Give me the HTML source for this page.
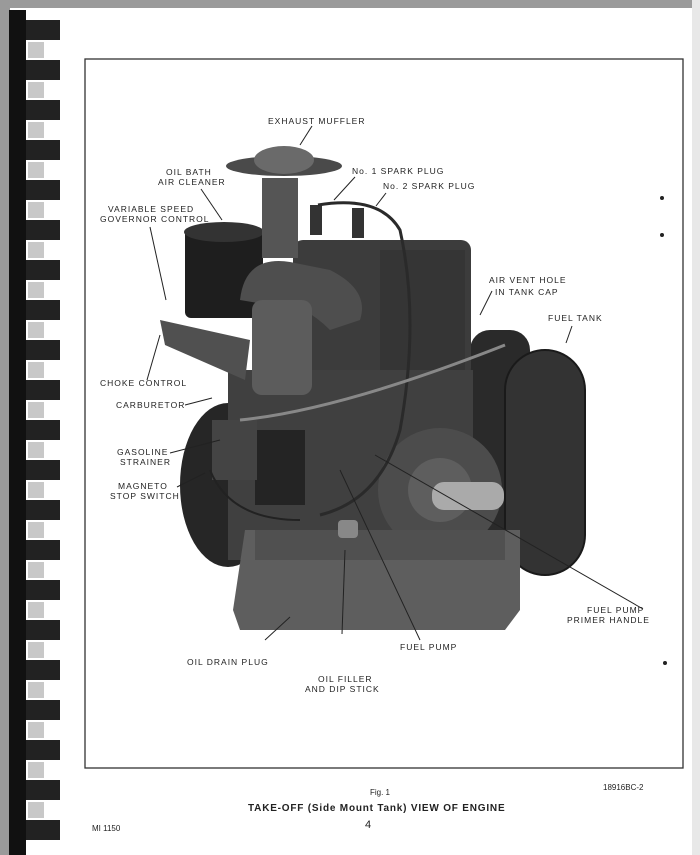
<!DOCTYPE html>
<html><head><style>
html,body{margin:0;padding:0;background:#fff}
svg{display:block}
text{font-family:"Liberation Sans",sans-serif;fill:#222}
</style></head><body>
<svg width="700" height="855" viewBox="0 0 700 855" xmlns="http://www.w3.org/2000/svg">
<rect width="700" height="855" fill="#fff"/>
<rect x="0" y="0" width="700" height="8" fill="#9a9a9a"/>
<rect x="0" y="0" width="10" height="855" fill="#9a9a9a"/>
<rect x="692" y="0" width="8" height="855" fill="#e8e8e8"/>
<!-- binding -->
<rect x="9" y="10" width="17" height="845" fill="#111"/>
<g>
<rect x="26" y="20" width="34" height="20" fill="#222"/><rect x="28" y="42" width="16" height="16" fill="#c8c8c8"/>
<rect x="26" y="60" width="34" height="20" fill="#222"/><rect x="28" y="82" width="16" height="16" fill="#c8c8c8"/>
<rect x="26" y="100" width="34" height="20" fill="#222"/><rect x="28" y="122" width="16" height="16" fill="#c8c8c8"/>
<rect x="26" y="140" width="34" height="20" fill="#222"/><rect x="28" y="162" width="16" height="16" fill="#c8c8c8"/>
<rect x="26" y="180" width="34" height="20" fill="#222"/><rect x="28" y="202" width="16" height="16" fill="#c8c8c8"/>
<rect x="26" y="220" width="34" height="20" fill="#222"/><rect x="28" y="242" width="16" height="16" fill="#c8c8c8"/>
<rect x="26" y="260" width="34" height="20" fill="#222"/><rect x="28" y="282" width="16" height="16" fill="#c8c8c8"/>
<rect x="26" y="300" width="34" height="20" fill="#222"/><rect x="28" y="322" width="16" height="16" fill="#c8c8c8"/>
<rect x="26" y="340" width="34" height="20" fill="#222"/><rect x="28" y="362" width="16" height="16" fill="#c8c8c8"/>
<rect x="26" y="380" width="34" height="20" fill="#222"/><rect x="28" y="402" width="16" height="16" fill="#c8c8c8"/>
<rect x="26" y="420" width="34" height="20" fill="#222"/><rect x="28" y="442" width="16" height="16" fill="#c8c8c8"/>
<rect x="26" y="460" width="34" height="20" fill="#222"/><rect x="28" y="482" width="16" height="16" fill="#c8c8c8"/>
<rect x="26" y="500" width="34" height="20" fill="#222"/><rect x="28" y="522" width="16" height="16" fill="#c8c8c8"/>
<rect x="26" y="540" width="34" height="20" fill="#222"/><rect x="28" y="562" width="16" height="16" fill="#c8c8c8"/>
<rect x="26" y="580" width="34" height="20" fill="#222"/><rect x="28" y="602" width="16" height="16" fill="#c8c8c8"/>
<rect x="26" y="620" width="34" height="20" fill="#222"/><rect x="28" y="642" width="16" height="16" fill="#c8c8c8"/>
<rect x="26" y="660" width="34" height="20" fill="#222"/><rect x="28" y="682" width="16" height="16" fill="#c8c8c8"/>
<rect x="26" y="700" width="34" height="20" fill="#222"/><rect x="28" y="722" width="16" height="16" fill="#c8c8c8"/>
<rect x="26" y="740" width="34" height="20" fill="#222"/><rect x="28" y="762" width="16" height="16" fill="#c8c8c8"/>
<rect x="26" y="780" width="34" height="20" fill="#222"/><rect x="28" y="802" width="16" height="16" fill="#c8c8c8"/>
<rect x="26" y="820" width="34" height="20" fill="#222"/>
</g>
<!-- frame -->
<rect x="85" y="59" width="598" height="709" fill="none" stroke="#333" stroke-width="1.3"/>
<!-- engine -->
<g>
<ellipse cx="228" cy="485" rx="48" ry="82" fill="#262626"/>
<rect x="185" y="228" width="78" height="90" rx="6" fill="#1e1e1e"/>
<ellipse cx="224" cy="232" rx="40" ry="10" fill="#333"/>
<rect x="470" y="330" width="60" height="240" rx="20" fill="#2a2a2a"/>
<rect x="293" y="240" width="178" height="138" rx="10" fill="#3c3c3c"/>
<rect x="380" y="250" width="85" height="120" fill="#353535"/>
<rect x="228" y="370" width="245" height="190" fill="#404040"/>
<circle cx="440" cy="490" r="62" fill="#4c4c4c"/>
<circle cx="440" cy="490" r="32" fill="#5e5e5e"/>
<rect x="505" y="350" width="80" height="225" rx="40" fill="#333" stroke="#1a1a1a" stroke-width="2"/>
<rect x="432" y="482" width="72" height="28" rx="12" fill="#aaa"/>
<path d="M245 530 L520 530 L520 610 L505 630 L240 630 L233 610 Z" fill="#5e5e5e"/>
<rect x="255" y="530" width="250" height="30" fill="#505050"/>
<rect x="262" y="178" width="36" height="80" fill="#555"/>
<path d="M240 300 Q245 255 290 262 L330 270 Q370 290 360 320 L330 330 Q300 300 270 305 Z" fill="#4e4e4e"/>
<ellipse cx="284" cy="166" rx="58" ry="10" fill="#4a4a4a"/>
<ellipse cx="284" cy="160" rx="30" ry="14" fill="#6a6a6a"/>
<rect x="252" y="300" width="60" height="95" rx="10" fill="#5c5c5c"/>
<path d="M160 320 L250 340 L245 380 L165 345 Z" fill="#505050"/>
<rect x="255" y="430" width="50" height="75" fill="#242424"/>
<rect x="212" y="420" width="45" height="60" fill="#444"/>
<rect x="310" y="205" width="12" height="30" fill="#333"/><rect x="352" y="208" width="12" height="30" fill="#333"/>
<path d="M318 205 Q380 195 400 230 Q420 320 400 430 Q380 500 320 515" fill="none" stroke="#2a2a2a" stroke-width="3"/>
<path d="M240 420 Q340 410 505 345" fill="none" stroke="#888" stroke-width="3"/>
<path d="M210 470 Q230 520 300 520" fill="none" stroke="#222" stroke-width="2"/>
<rect x="338" y="520" width="20" height="18" rx="4" fill="#888"/>
</g>
<!-- leader lines -->
<g stroke="#222" stroke-width="1" fill="none">
<path d="M312 126 L300 145"/>
<path d="M201 189 L222 220"/>
<path d="M150 227 L166 300"/>
<path d="M355 177 L334 200"/>
<path d="M386 193 L376 206"/>
<path d="M492 291 L480 315"/>
<path d="M572 326 L566 343"/>
<path d="M147 380 L160 335"/>
<path d="M185 405 L212 398"/>
<path d="M170 453 L220 440"/>
<path d="M177 487 L205 473"/>
<path d="M643 609 L375 455"/>
<path d="M420 640 L340 470"/>
<path d="M290 617 L265 640"/>
<path d="M345 550 L342 634"/>
</g>
<!-- labels -->
<g font-size="8.5" letter-spacing="1">
<text x="268" y="124">EXHAUST MUFFLER</text>
<text x="166" y="175">OIL BATH</text>
<text x="158" y="185">AIR CLEANER</text>
<text x="108" y="212">VARIABLE SPEED</text>
<text x="100" y="222">GOVERNOR CONTROL</text>
<text x="352" y="174">No. 1 SPARK PLUG</text>
<text x="383" y="189">No. 2 SPARK PLUG</text>
<text x="489" y="283">AIR VENT HOLE</text>
<text x="495" y="295">IN TANK CAP</text>
<text x="548" y="321">FUEL TANK</text>
<text x="100" y="386">CHOKE CONTROL</text>
<text x="116" y="408">CARBURETOR</text>
<text x="117" y="455">GASOLINE</text>
<text x="120" y="465">STRAINER</text>
<text x="118" y="489">MAGNETO</text>
<text x="110" y="499">STOP SWITCH</text>
<text x="587" y="613">FUEL PUMP</text>
<text x="567" y="623">PRIMER HANDLE</text>
<text x="400" y="650">FUEL PUMP</text>
<text x="187" y="665">OIL DRAIN PLUG</text>
<text x="318" y="682">OIL FILLER</text>
<text x="305" y="692">AND DIP STICK</text>
</g>
<text x="370" y="795" font-size="8">Fig. 1</text>
<text x="603" y="790" font-size="8">18916BC-2</text>
<text x="248" y="811" font-size="10" font-weight="bold" letter-spacing="0.8">TAKE-OFF (Side Mount Tank) VIEW OF ENGINE</text>
<text x="92" y="831" font-size="8">MI 1150</text>
<text x="365" y="828" font-size="11">4</text>
<circle cx="662" cy="198" r="2" fill="#222"/>
<circle cx="662" cy="235" r="2" fill="#222"/>
<circle cx="665" cy="663" r="2" fill="#222"/>
</svg>
</body></html>
